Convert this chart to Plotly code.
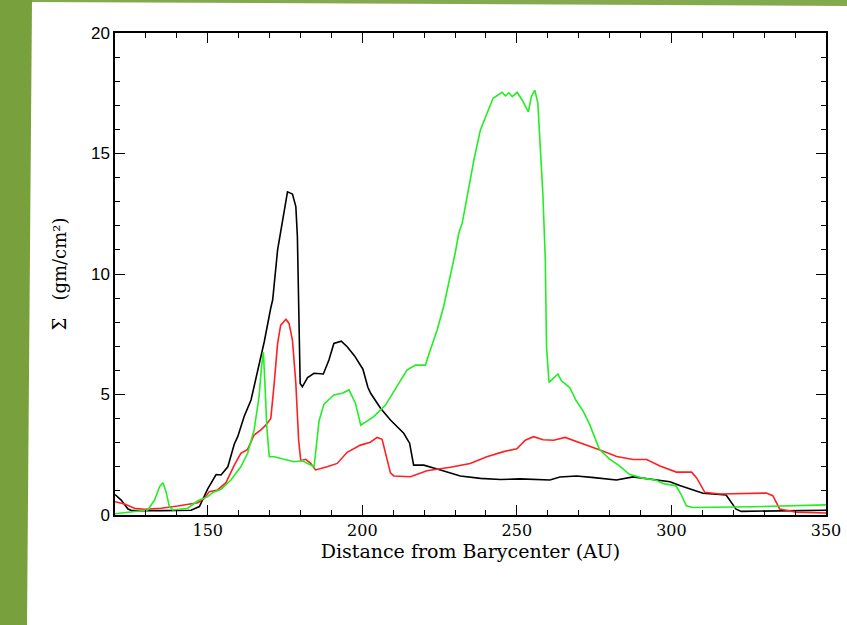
import plotly.graph_objects as go

# ---- data ----
black_x = [120, 122, 124.2, 125.5, 135, 144.6, 147.3, 150, 152.7, 154.3, 156.5, 158.6, 159.7, 161.8,
           164, 166.1, 167.7, 168.3, 170.4, 171, 172.6, 174.2, 175.8, 177.4, 178.5, 179, 179.9,
           180.6, 182.3, 184.4, 187.4, 189.2, 190.8, 193.2, 195.1, 197.5, 200.2, 201.8, 202.7,
           205.9, 209.1, 213.4, 215.3, 216.6, 219.9, 225.3, 231.7, 238.2, 244.6, 251, 257.5,
           260.7, 263.9, 269.3, 275, 282.2, 287.6, 294, 299.5, 302.7, 310.2, 317.7, 320.9,
           322.6, 335, 347.8, 350]
black_y = [0.85, 0.62, 0.25, 0.18, 0.18, 0.2, 0.35, 1.08, 1.68, 1.66, 2.0, 2.95, 3.25, 4.1,
           4.77, 5.95, 6.85, 7.2, 8.6, 8.92, 11.0, 12.24, 13.41, 13.32, 12.8, 11.55, 5.46,
           5.32, 5.7, 5.88, 5.85, 6.43, 7.12, 7.21, 6.98, 6.6, 6.05, 5.3, 5.05,
           4.43, 3.94, 3.39, 2.98, 2.07, 2.07, 1.87, 1.62, 1.52, 1.47, 1.5, 1.45,
           1.45, 1.58, 1.62, 1.55, 1.45, 1.58, 1.48, 1.38, 1.22, 0.9, 0.83, 0.24,
           0.15, 0.17, 0.2, 0.2]

red_x = [120, 123.1, 126.3, 129.5, 134.9, 140.3, 146.8, 148.9, 150.5, 153.2, 155.9, 158.6, 160.7,
         162.9, 165, 167.2, 168.8, 170.4, 171.5, 172.6, 173.6, 175.3, 176.3, 177.4, 178.5, 179.4,
         180.1, 181.7, 183.3, 184.9, 188.6, 191.9, 195.1, 199.4, 202.6, 204.8, 206.4, 208,
         209.1, 210.2, 215.6, 220.9, 228.5, 234.9, 240.3, 245.7, 250, 252.7, 255.4, 258.5,
         261.9, 265.6, 270.5, 276.9, 282.3, 287.6, 292, 296.3, 301.6, 306.5, 308.1, 310.8,
         315.6, 330.7, 332.8, 335, 340.4, 350]
red_y = [0.55, 0.46, 0.28, 0.24, 0.28, 0.37, 0.51, 0.69, 0.97, 1.04, 1.34, 2.07, 2.56,
         2.72, 3.32, 3.53, 3.73, 4.01, 5.46, 7.12, 7.88, 8.12, 7.95, 7.26, 5.46, 3.11,
         2.25, 2.31, 2.14, 1.87, 2.0, 2.14, 2.6, 2.9, 3.02, 3.22, 3.14, 2.3,
         1.75, 1.62, 1.59, 1.84, 1.98, 2.14, 2.42, 2.63, 2.75, 3.1, 3.25, 3.12,
         3.1, 3.22, 3.0, 2.7, 2.43, 2.3, 2.3, 2.03, 1.78, 1.78, 1.55, 0.94,
         0.87, 0.91, 0.8, 0.25, 0.12, 0.08]

green_x = [120, 125.3, 130.6, 132.8, 134.4, 135.5, 136.5, 137.6, 138.7, 143.5, 146.8, 150, 151.6,
           154.3, 157.5, 160.7, 162.9, 165, 166.6, 167.4, 168, 168.5, 169.1, 169.9, 171.5,
           174.7, 177.9, 180.6, 183.3, 184.4, 186, 187.6, 190.8, 193.5, 195.7, 197.8, 199.5,
           203.7, 207.5, 211.3, 214.5, 217.2, 220.4, 222, 224.2, 226.3, 228.5, 230.1, 231.2,
           232.3, 233.9, 236.1, 238.2, 240.4, 242.3, 245.2, 246.3, 247.4, 248.5, 250.1, 251.7,
           253.7, 254.7, 255.8, 256.8, 257.5, 258.4, 259.2, 259.6, 260.4, 263.3, 264.4, 267.1,
           269.2, 271.4, 273.5, 275.1, 276.7, 280, 283.2, 286.4, 290.7, 295.1, 297.2, 301.5,
           303.1, 304.8, 306.9, 326.3, 350]
green_y = [0.05, 0.12, 0.21, 0.62, 1.17, 1.34, 0.97, 0.34, 0.21, 0.28, 0.59, 0.76, 0.93,
           1.07, 1.45, 2.0, 2.56, 3.53, 4.91, 6.15, 6.75, 5.46, 3.66, 2.42, 2.42,
           2.31, 2.21, 2.25, 2.07, 2.0, 3.9, 4.6, 4.98, 5.05, 5.19, 4.63, 3.73,
           4.08, 4.56, 5.36, 6.02, 6.22, 6.22, 6.85, 7.68, 8.64, 9.89, 10.9, 11.69,
           12.1, 13.2, 14.73, 15.98, 16.67, 17.29, 17.54, 17.39, 17.52, 17.36, 17.54, 17.22,
           16.73, 17.36, 17.63, 17.08, 15.42, 13.35, 10.58, 6.95, 5.5, 5.85, 5.57, 5.29,
           4.74, 4.32, 3.77, 3.22, 2.73, 2.32, 2.04, 1.69, 1.53, 1.44, 1.31, 1.21,
           0.86, 0.38, 0.31, 0.34, 0.42]

x_ticks = [150, 200, 250, 300, 350]
y_ticks = [0, 5, 10, 15, 20]

# ---- figure ----
W, H = 847, 625
ML, MR, MT, MB = 115, 21, 33, 110
pw, ph = W - ML - MR, H - MT - MB


def px2paper_x(px):
    return (px - ML) / pw


def py2paper_y(py):
    return (H - MB - py) / ph


fig = go.Figure()
for xs, ys, col in [(black_x, black_y, "#000000"),
                    (red_x, red_y, "#ff2020"),
                    (green_x, green_y, "#22ee22")]:
    fig.add_trace(go.Scatter(x=xs, y=ys, mode="lines",
                             line=dict(color=col, width=1.6), showlegend=False,
                             hoverinfo="skip"))

axis_common = dict(showgrid=False, zeroline=False, showline=True, linecolor="black",
                   linewidth=1.5, ticks="inside", ticklen=10, tickwidth=1.2,
                   tickcolor="black", mirror="allticks", automargin=False)

fig.update_xaxes(range=[120, 350], tickvals=x_ticks, ticktext=[str(v) for v in x_ticks],
                 minor=dict(dtick=10, tick0=0, ticks="inside", ticklen=5, tickcolor="black",
                            tickwidth=1),
                 tickfont=dict(family="DejaVu Serif", size=16, color="black"),
                 title=dict(text="Distance from Barycenter (AU)",
                            font=dict(family="DejaVu Serif", size=19, color="black"),
                            standoff=2),
                 **axis_common)
fig.update_yaxes(range=[0, 20], tickvals=y_ticks, ticktext=[str(v) for v in y_ticks],
                 minor=dict(dtick=1, tick0=0, ticks="inside", ticklen=5, tickcolor="black",
                            tickwidth=1),
                 tickfont=dict(family="Liberation Sans", size=17, color="black"),
                 title=dict(text="Σ   (gm/cm²)",
                            font=dict(family="DejaVu Serif", size=18, color="black"),
                            standoff=20),
                 **axis_common)

green_bg = "#78a03c"
# left decorative bar (slightly slanted)
left_path = "M {} {} L {} {} L {} {} L {} {} Z".format(
    px2paper_x(0), py2paper_y(0), px2paper_x(32), py2paper_y(0),
    px2paper_x(27), py2paper_y(H), px2paper_x(0), py2paper_y(H))
top_path = "M {} {} L {} {} L {} {} L {} {} Z".format(
    px2paper_x(30), py2paper_y(0), px2paper_x(W), py2paper_y(0),
    px2paper_x(W), py2paper_y(6), px2paper_x(30), py2paper_y(2))
fig.add_shape(type="path", path=left_path, xref="paper", yref="paper",
              fillcolor=green_bg, line=dict(width=0), layer="above")
fig.add_shape(type="path", path=top_path, xref="paper", yref="paper",
              fillcolor=green_bg, line=dict(width=0), layer="above", opacity=0.9)

fig.update_layout(width=W, height=H, margin=dict(l=ML, r=MR, t=MT, b=MB, autoexpand=False),
                  paper_bgcolor="white", plot_bgcolor="white")

fig.write_html("out.html", config={"displayModeBar": False},
               post_script="document.body.style.margin='0';document.body.style.overflow='hidden';")
